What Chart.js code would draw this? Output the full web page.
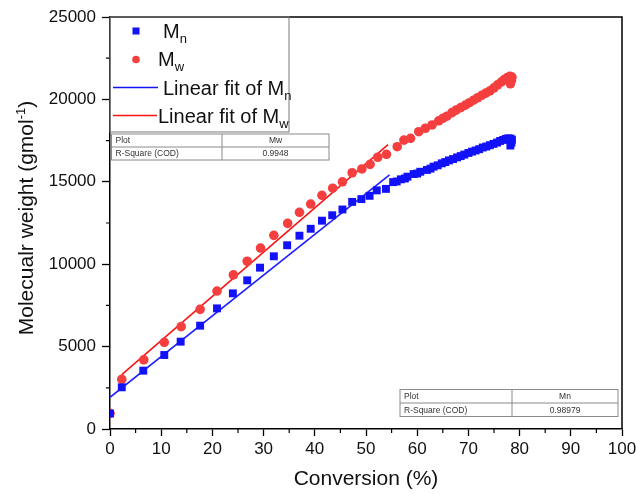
<!DOCTYPE html>
<html>
<head>
<meta charset="utf-8">
<script src="https://cdn.jsdelivr.net/npm/chart.js@4"></script>
<style>
  html, body { margin: 0; padding: 0; background: #fff; }
  canvas { display: block; }
</style>
</head>
<body>
<canvas id="mwChart" width="636" height="494"></canvas>
<script>
// conversion (%) and molecular weight
const mnConversion = [0, 2.3, 6.5, 10.6, 13.8, 17.6, 20.9, 24.0, 26.8, 29.3, 32.0, 34.6, 37.0, 39.2, 41.4, 43.4,
  45.4, 47.3, 49.1, 50.7, 52.1, 53.9, 55.3, 56.0, 56.8, 57.6, 58.1, 59.3, 60.0, 60.6, 61.9, 62.6, 63.2, 64.0,
  64.8, 65.5, 66.2, 67.0, 67.8, 68.5, 69.2, 70.0, 70.7, 71.4, 72.1, 72.8, 73.5, 74.2, 74.9, 75.6, 76.2, 76.8,
  77.3, 77.8, 78.2, 78.5, 78.4, 78.2];
const mnValues = [940, 2530, 3540, 4490, 5300, 6270, 7320, 8230, 9020, 9790, 10480, 11150, 11730, 12150, 12640, 12970,
  13320, 13780, 13950, 14150, 14480, 14570, 14980, 15020, 15150, 15200, 15310, 15470, 15500, 15610, 15720, 15800, 15920, 16000,
  16120, 16200, 16300, 16380, 16480, 16560, 16650, 16750, 16830, 16900, 16980, 17080, 17140, 17220, 17300, 17380, 17480, 17540,
  17600, 17640, 17620, 17560, 17380, 17200];

const mwConversion = [0, 2.3, 6.6, 10.6, 13.9, 17.6, 20.9, 24.1, 26.8, 29.4, 32.0, 34.7, 37.0, 39.2, 41.4, 43.5,
  45.4, 47.3, 49.2, 50.8, 52.3, 54.0, 56.1, 57.4, 58.7, 60.3, 61.6, 62.9, 64.2, 65.0, 65.8, 66.8, 67.6, 68.5,
  69.4, 70.2, 71.0, 71.8, 72.6, 73.4, 74.2, 75.0, 75.7, 76.4, 77.0, 77.6, 78.1, 78.5, 78.4, 78.2];
const mwValues = [950, 3010, 4200, 5260, 6210, 7260, 8370, 9350, 10180, 10980, 11750, 12480, 13150, 13650, 14180, 14610,
  15000, 15550, 15780, 16060, 16490, 16670, 17130, 17530, 17640, 18040, 18250, 18450, 18700, 18850, 18980, 19200, 19350, 19500,
  19650, 19800, 19950, 20100, 20250, 20380, 20520, 20700, 20880, 21050, 21200, 21330, 21400, 21350, 21150, 20950];

// end points of the two linear fits
const fitMnX = [0, 54.6];
const fitMnY = [1920, 15420];
const fitMwX = [2.3, 54.3];
const fitMwY = [3300, 17250];

const xTicks = [0, 10, 20, 30, 40, 50, 60, 70, 80, 90, 100];
const yTicks = [0, 5000, 10000, 15000, 20000, 25000];
const xMinorTicks = [5, 15, 25, 35, 45, 55, 65, 75, 85, 95];
const yMinorTicks = [2500, 7500, 12500, 17500, 22500];

const mwTable = [['Plot', 'Mw'], ['R-Square (COD)', '0.9948']];
const mnTable = [['Plot', 'Mn'], ['R-Square (COD)', '0.98979']];

const FONT = '"Liberation Sans", Arial, sans-serif';
const BLUE = 'rgb(18,18,250)';
const RED = 'rgb(245,62,62)';

function toPoints(xs, ys) {
  return xs.map((x, i) => ({ x: x, y: ys[i] }));
}

// text with a sub/superscript part
function drawScripted(ctx, parts, x, y, align) {
  let total = 0;
  parts.forEach(p => { ctx.font = p.size + 'px ' + FONT; total += ctx.measureText(p.text).width; });
  let cx = align === 'center' ? x - total / 2 : x;
  parts.forEach(p => {
    ctx.font = p.size + 'px ' + FONT;
    ctx.fillText(p.text, cx, y + (p.dy || 0));
    cx += ctx.measureText(p.text).width;
  });
}

function drawTable(ctx, rows, left, top, right, divider, rowH) {
  ctx.save();
  ctx.strokeStyle = '#8a8a8a';
  ctx.lineWidth = 1;
  ctx.strokeRect(left, top, right - left, rowH * rows.length);
  for (let i = 1; i < rows.length; i++) {
    ctx.beginPath();
    ctx.moveTo(left, top + rowH * i);
    ctx.lineTo(right, top + rowH * i);
    ctx.stroke();
  }
  ctx.beginPath();
  ctx.moveTo(divider, top);
  ctx.lineTo(divider, top + rowH * rows.length);
  ctx.stroke();
  ctx.fillStyle = '#333';
  ctx.font = '8.5px ' + FONT;
  ctx.textBaseline = 'middle';
  rows.forEach((r, i) => {
    const cy = top + rowH * i + rowH / 2 + 0.5;
    ctx.textAlign = 'left';
    ctx.fillText(r[0], left + 4, cy);
    ctx.textAlign = 'center';
    ctx.fillText(r[1], (divider + right) / 2, cy);
  });
  ctx.restore();
}

const decorations = {
  id: 'decorations',
  afterDraw(chart) {
    const ctx = chart.ctx;
    const area = chart.chartArea;
    const xs = chart.scales.x;
    const ys = chart.scales.y;

    ctx.save();
    // top and right frame
    ctx.strokeStyle = '#000';
    ctx.lineWidth = 1.5;
    ctx.beginPath();
    ctx.moveTo(area.left, area.top);
    ctx.lineTo(area.right, area.top);
    ctx.lineTo(area.right, area.bottom);
    ctx.stroke();

    // minor ticks
    ctx.lineWidth = 1.2;
    ctx.beginPath();
    xMinorTicks.forEach(v => {
      const px = xs.getPixelForValue(v);
      ctx.moveTo(px, area.bottom);
      ctx.lineTo(px, area.bottom + 4);
    });
    yMinorTicks.forEach(v => {
      const py = ys.getPixelForValue(v);
      ctx.moveTo(area.left, py);
      ctx.lineTo(area.left - 4, py);
    });
    ctx.stroke();

    // y axis title
    ctx.save();
    ctx.translate(27, 218);
    ctx.rotate(-Math.PI / 2);
    ctx.fillStyle = '#111';
    ctx.textBaseline = 'middle';
    drawScripted(ctx, [
      { text: 'Molecualr weight (gmol', size: 21 },
      { text: '-1', size: 13, dy: -6 },
      { text: ')', size: 21 }
    ], 0, 0, 'center');
    ctx.restore();

    // legend box
    ctx.strokeStyle = '#7a7a7a';
    ctx.lineWidth = 1;
    ctx.strokeRect(area.left, area.top, 289 - area.left, 132 - area.top);

    ctx.fillStyle = BLUE;
    ctx.fillRect(132.5, 27.5, 7, 7);
    ctx.fillStyle = RED;
    ctx.beginPath();
    ctx.arc(136, 59.5, 3.8, 0, Math.PI * 2);
    ctx.fill();

    ctx.lineWidth = 1.5;
    ctx.strokeStyle = BLUE;
    ctx.beginPath();
    ctx.moveTo(113, 87.5);
    ctx.lineTo(158, 87.5);
    ctx.stroke();
    ctx.strokeStyle = 'rgb(250,20,20)';
    ctx.beginPath();
    ctx.moveTo(113, 115.5);
    ctx.lineTo(157, 115.5);
    ctx.stroke();

    ctx.fillStyle = '#111';
    ctx.textBaseline = 'alphabetic';
    ctx.textAlign = 'left';
    drawScripted(ctx, [{ text: 'M', size: 20 }, { text: 'n', size: 13, dy: 5 }], 163, 38, 'left');
    drawScripted(ctx, [{ text: 'M', size: 20 }, { text: 'w', size: 13, dy: 5 }], 158, 66, 'left');
    drawScripted(ctx, [{ text: 'Linear fit of M', size: 20 }, { text: 'n', size: 13, dy: 5 }], 163, 95, 'left');
    drawScripted(ctx, [{ text: 'Linear fit of M', size: 20 }, { text: 'w', size: 13, dy: 5 }], 158, 122.5, 'left');

    // result tables
    drawTable(ctx, mwTable, 111.5, 134, 329, 222, 13);
    drawTable(ctx, mnTable, 400, 389.5, 618, 512, 13.5);
    ctx.restore();
  }
};

new Chart(document.getElementById('mwChart'), {
  type: 'scatter',
  data: {
    datasets: [
      {
        label: 'Mn',
        data: toPoints(mnConversion, mnValues),
        pointStyle: 'rect',
        pointRadius: 5.6,
        backgroundColor: BLUE,
        borderWidth: 0
      },
      {
        label: 'Mw',
        data: toPoints(mwConversion, mwValues),
        pointStyle: 'circle',
        pointRadius: 4.8,
        backgroundColor: RED,
        borderWidth: 0
      },
      {
        type: 'line',
        label: 'Linear fit of Mn',
        data: toPoints(fitMnX, fitMnY),
        borderColor: 'rgb(30,30,255)',
        borderWidth: 1.6,
        pointRadius: 0
      },
      {
        type: 'line',
        label: 'Linear fit of Mw',
        data: toPoints(fitMwX, fitMwY),
        borderColor: 'rgb(250,20,20)',
        borderWidth: 1.6,
        pointRadius: 0
      }
    ]
  },
  options: {
    responsive: false,
    animation: false,
    devicePixelRatio: 1,
    layout: { padding: { top: 17, right: 14, left: 0, bottom: 0 } },
    plugins: {
      legend: { display: false },
      tooltip: { enabled: false }
    },
    scales: {
      x: {
        type: 'linear',
        min: 0,
        max: 100,
        afterBuildTicks: s => { s.ticks = xTicks.map(v => ({ value: v })); },
        afterFit: s => { s.height = 65; s.paddingLeft = 0; s.paddingRight = 0; },
        ticks: { color: '#111', font: { family: FONT, size: 17 }, padding: 3, maxRotation: 0, callback: v => String(v) },
        grid: { drawOnChartArea: false, drawTicks: true, tickLength: 7, tickColor: '#000', tickWidth: 1.3 },
        border: { color: '#000', width: 1.5 },
        title: {
          display: true,
          text: 'Conversion (%)',
          color: '#111',
          font: { family: FONT, size: 21 },
          padding: { top: 0, bottom: 2 }
        }
      },
      y: {
        type: 'linear',
        min: 0,
        max: 25000,
        afterBuildTicks: s => { s.ticks = yTicks.map(v => ({ value: v })); },
        afterFit: s => { s.width = 110; s.paddingTop = 0; s.paddingBottom = 0; },
        ticks: { color: '#111', font: { family: FONT, size: 17 }, padding: 6, callback: v => String(v) },
        grid: { drawOnChartArea: false, drawTicks: true, tickLength: 8, tickColor: '#000', tickWidth: 1.3 },
        border: { color: '#000', width: 1.5 }
      }
    }
  },
  plugins: [decorations]
});
</script>
</body>
</html>
